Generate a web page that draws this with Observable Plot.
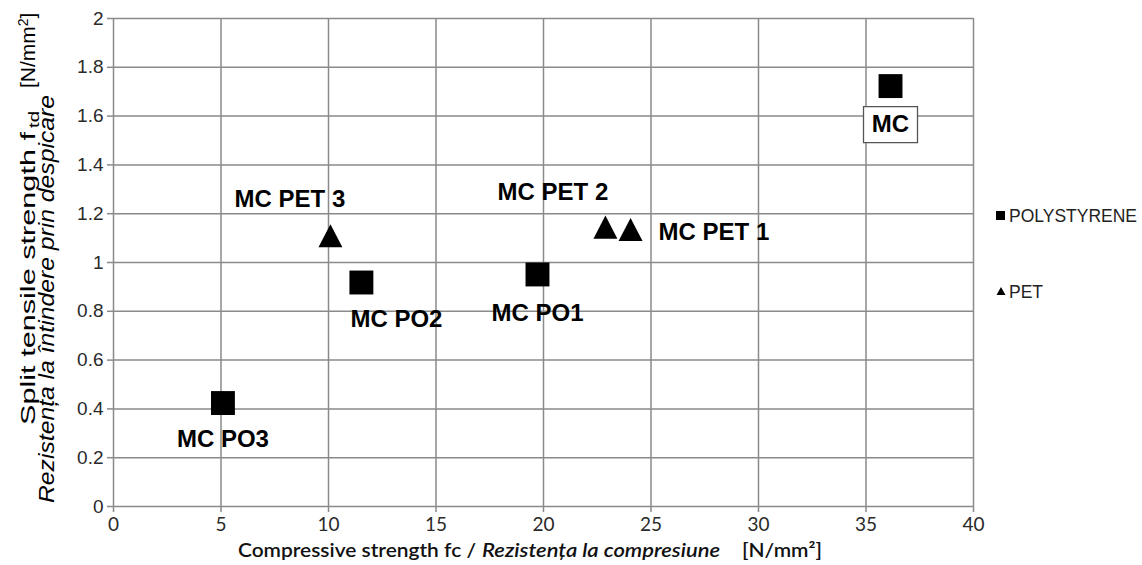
<!DOCTYPE html>
<html><head><meta charset="utf-8">
<script src="https://cdn.jsdelivr.net/npm/d3@7"></script>
<script src="https://cdn.jsdelivr.net/npm/@observablehq/plot@0.6"></script>
<style>body{margin:0;background:#fff;} svg{display:block}</style>
</head><body><div id="chart"></div>
<script>
// ---- data ----
const pointLabels  = ["MC", "MC PO1", "MC PO2", "MC PO3", "MC PET 1", "MC PET 2", "MC PET 3"];
const materials    = ["POLYSTYRENE", "POLYSTYRENE", "POLYSTYRENE", "POLYSTYRENE", "PET", "PET", "PET"];
const compressive  = [36.14, 19.72, 11.53, 5.09, 24.05, 22.88, 10.09];   // fc [N/mm²]
const splitTensile = [1.723, 0.951, 0.918, 0.424, 1.135, 1.145, 1.11];   // ftd [N/mm²]
const xTicks = [0, 5, 10, 15, 20, 25, 30, 35, 40];
const yTicks = [0, 0.2, 0.4, 0.6, 0.8, 1, 1.2, 1.4, 1.6, 1.8, 2];
const legendItems = ["POLYSTYRENE", "PET"];

const data = pointLabels.map((label, i) => ({label, material: materials[i], x: compressive[i], y: splitTensile[i]}));

// label placement (pixel offsets from the marker)
const placement = {
  "MC":       {dx: 0,     dy: 38.5, anchor: "middle"},
  "MC PO1":   {dx: 0,     dy: 39,   anchor: "middle"},
  "MC PO2":   {dx: 35,    dy: 36.5, anchor: "middle"},
  "MC PO3":   {dx: 0,     dy: 36.5, anchor: "middle"},
  "MC PET 1": {dx: 28,    dy: 3,    anchor: "start"},
  "MC PET 2": {dx: -52.5, dy: -34.5, anchor: "middle"},
  "MC PET 3": {dx: -40.5, dy: -36,  anchor: "middle"}
};

const triangleSym = {draw(ctx, size) { const r = Math.sqrt(size / Math.PI); const w = r * 1.33, h = r * 1.28;
  ctx.moveTo(0, -h); ctx.lineTo(w, h); ctx.lineTo(-w, h); ctx.closePath(); }};
const squareSym = {draw(ctx, size) { const r = Math.sqrt(size / Math.PI); const s = r * 0.886;
  ctx.rect(-s, -s, 2 * s, 2 * s); }};
const boxSym = {draw(ctx, size) { ctx.rect(-27, -18, 54, 36); }};

const gridColor = "#8a8a8a";
const labelFont = "Liberation Sans, Arial, sans-serif";

const labelMarks = data.map(d => Plot.text([d], {
  x: "x", y: "y", text: "label",
  dx: placement[d.label].dx, dy: placement[d.label].dy, textAnchor: placement[d.label].anchor,
  fontSize: 24, fontWeight: "bold", fontFamily: labelFont, fill: "#000"
}));

const chart = Plot.plot({
  width: 1142, height: 565,
  marginLeft: 113, marginRight: 169, marginTop: 18, marginBottom: 59,
  style: {background: "#fff", fontFamily: labelFont},
  x: {domain: [0, 40]},
  y: {domain: [0, 2]},
  marks: [
    Plot.gridX(xTicks, {stroke: gridColor, strokeOpacity: 1, strokeWidth: 1.5}),
    Plot.gridY(yTicks, {stroke: gridColor, strokeOpacity: 1, strokeWidth: 1.5}),
    Plot.axisY(yTicks, {tickSize: 6, tickPadding: 4, tickFormat: d => String(Math.round(d * 10) / 10),
      fontSize: 19, fontFamily: labelFont, color: "#2a2a2a", stroke: gridColor, strokeWidth: 1.5, label: null}),
    Plot.axisX(xTicks, {tickSize: 6, tickPadding: 5, tickFormat: d => String(d),
      fontSize: 19, fontFamily: "Liberation Sans Narrow, Arial Narrow, Lato, sans-serif", color: "#2a2a2a", stroke: gridColor, strokeWidth: 1.5, label: null}),
    Plot.dot(data.filter(d => d.material === "POLYSTYRENE"), {x: "x", y: "y", symbol: squareSym, r: 13.5, fill: "#000", stroke: "none"}),
    Plot.dot(data.filter(d => d.material === "PET"), {x: "x", y: "y", symbol: triangleSym, r: 9, fill: "#000", stroke: "none"}),
    Plot.dot(data.filter(d => d.label === "MC"), {x: "x", y: "y", symbol: boxSym, r: 5, dy: 38.5, fill: "#fff", stroke: "#555", strokeWidth: 1.3}),
    ...labelMarks
  ]
});
document.getElementById("chart").appendChild(chart);

const svg = d3.select(chart);
const extra = svg.append("g").attr("text-anchor", "start");

// ---- Y axis title ----
extra.append("text").attr("transform", "translate(35,425) rotate(-90)").attr("text-anchor", "start")
  .attr("font-family", labelFont).attr("font-size", 21).attr("fill", "#000")
  .attr("textLength", 293).attr("lengthAdjust", "spacingAndGlyphs")
  .text("Split tensile strength f");
extra.append("text").attr("transform", "translate(39,128) rotate(-90)").attr("text-anchor", "start")
  .attr("font-family", labelFont).attr("font-size", 14).attr("fill", "#000")
  .attr("textLength", 17).attr("lengthAdjust", "spacingAndGlyphs")
  .text("td");
const unitY = extra.append("text").attr("transform", "translate(35,88) rotate(-90)").attr("text-anchor", "start")
  .attr("font-family", labelFont).attr("font-size", 21).attr("fill", "#000");
unitY.append("tspan").text("[N/mm");
unitY.append("tspan").attr("dy", -7).attr("font-size", 14).text("2");
unitY.append("tspan").attr("dy", 7).text("]");
extra.append("text").attr("transform", "translate(54,503) rotate(-90)").attr("text-anchor", "start")
  .attr("font-family", labelFont).attr("font-size", 22).attr("font-style", "italic").attr("fill", "#000")
  .attr("textLength", 408).attr("lengthAdjust", "spacingAndGlyphs")
  .text("Rezistența la întindere prin despicare");

// ---- X axis title ----
const xFont = "Lato, Open Sans, sans-serif";
extra.append("text").attr("x", 238).attr("y", 557).attr("text-anchor", "start")
  .attr("font-family", xFont).attr("font-size", 19).attr("font-weight", 600).attr("fill", "#111")
  .attr("textLength", 238).attr("lengthAdjust", "spacingAndGlyphs")
  .text("Compressive strength fc /");
extra.append("text").attr("x", 482).attr("y", 557).attr("text-anchor", "start")
  .attr("font-family", xFont).attr("font-size", 19).attr("font-weight", 600).attr("font-style", "italic").attr("fill", "#111")
  .attr("textLength", 238).attr("lengthAdjust", "spacingAndGlyphs")
  .text("Rezistența la compresiune");
extra.append("text").attr("x", 742).attr("y", 557).attr("text-anchor", "start")
  .attr("font-family", xFont).attr("font-size", 19).attr("font-weight", 600).attr("fill", "#111")
  .attr("textLength", 80).attr("lengthAdjust", "spacingAndGlyphs")
  .text("[N/mm²]");

// ---- Legend ----
const legend = extra.append("g").attr("font-family", labelFont).attr("font-size", 17.5).attr("fill", "#222");
legendItems.forEach((name, i) => {
  const cy = i === 0 ? 215.5 : 291;
  if (i === 0) legend.append("rect").attr("x", 996).attr("y", cy - 4.5).attr("width", 9).attr("height", 9).attr("fill", "#000");
  else legend.append("path").attr("d", `M1001,${cy - 4}L1005.5,${cy + 4}L996.5,${cy + 4}Z`).attr("fill", "#000");
  legend.append("text").attr("x", 1009).attr("y", cy + 6.5).attr("text-anchor", "start").text(name);
});
</script>
</body></html>
